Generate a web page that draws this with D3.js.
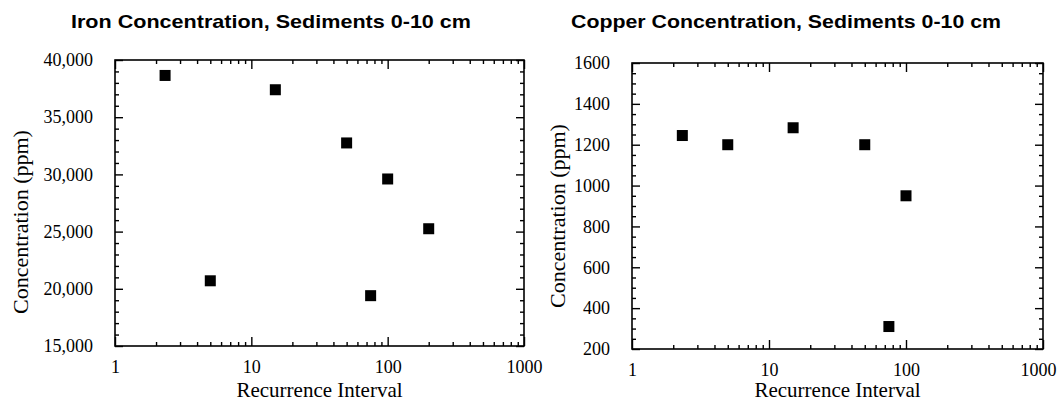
<!DOCTYPE html>
<html><head><meta charset="utf-8">
<script src="https://cdn.jsdelivr.net/npm/d3@7"></script>
<style>body{margin:0;background:#fff}svg{display:block}</style>
</head><body><svg id="c" width="1057" height="401"></svg>
<script>
// ---- data ----
const ironRecurrence = [2.33, 5, 15, 50, 75, 100, 200];
const ironPpm = [38650, 20700, 37400, 32750, 19400, 29600, 25250];
const copperRecurrence = [2.33, 5, 15, 50, 75, 100];
const copperPpm = [1245, 1200, 1283, 1200, 310, 950];
const xTickValues = [1, 10, 100, 1000];
const xTickLabels = ["1", "10", "100", "1000"];
const ironTickValues = [15000, 20000, 25000, 30000, 35000, 40000];
const ironTickLabels = ["15,000", "20,000", "25,000", "30,000", "35,000", "40,000"];
const copperTickValues = [200, 400, 600, 800, 1000, 1200, 1400, 1600];
const copperTickLabels = ["200", "400", "600", "800", "1000", "1200", "1400", "1600"];
const titles = ["Iron Concentration, Sediments 0-10 cm", "Copper Concentration, Sediments 0-10 cm"];
const xTitle = "Recurrence Interval";
const yTitle = "Concentration (ppm)";

const svg = d3.select("#c");
const serif = "'Liberation Serif','Times New Roman',serif";
const sans = "'Liberation Sans',Arial,sans-serif";

function panel(cfg) {
  const {x0, x1, y0, y1, xs, ys, yDomain, yTicks, yLabels, yMinorStep, titleX, titleW, yTitleX, yTitleY, title} = cfg;
  const x = d3.scaleLog().domain([1, 1000]).range([x0, x1]);
  const y = d3.scaleLinear().domain(yDomain).range([y1, y0]);
  const g = svg.append("g");

  const minorX = [];
  [1, 10, 100].forEach(d => { for (let k = 2; k <= 9; k++) minorX.push(k * d); });
  const minorY = d3.range(yDomain[0], yDomain[1] + 1e-9, yMinorStep).filter(v => !yTicks.includes(v));

  const fmtX = d => xTickLabels[xTickValues.indexOf(d)];
  const fmtY = d => yLabels[yTicks.indexOf(d)];

  function styleAxis(sel) {
    sel.select(".domain").remove();
    sel.selectAll("line").attr("stroke", "#000").attr("stroke-width", 1.4);
    sel.selectAll("text").attr("font-family", serif).attr("font-size", 18).attr("fill", "#000");
  }
  // bottom
  const bottom = g.append("g").attr("transform", `translate(0,${y1})`)
    .call(d3.axisBottom(x).tickValues(xTickValues).tickFormat(fmtX).tickSize(-9).tickPadding(14)).call(styleAxis);
  // keep the last label inside the page
  bottom.selectAll(".tick text").each(function(d) {
    const px = x(d);
    if (px + 18 > 1056) d3.select(this).attr("text-anchor", "end").attr("x", 1056 - px);
  });
  g.append("g").attr("transform", `translate(0,${y1})`)
    .call(d3.axisBottom(x).tickValues(minorX).tickFormat("").tickSize(-4)).call(styleAxis);
  // top
  g.append("g").attr("transform", `translate(0,${y0})`)
    .call(d3.axisTop(x).tickValues(xTickValues).tickFormat("").tickSize(-9)).call(styleAxis);
  g.append("g").attr("transform", `translate(0,${y0})`)
    .call(d3.axisTop(x).tickValues(minorX).tickFormat("").tickSize(-4)).call(styleAxis);
  // left
  g.append("g").attr("transform", `translate(${x0},0)`)
    .call(d3.axisLeft(y).tickValues(yTicks).tickFormat(fmtY).tickSize(-8).tickPadding(22)).call(styleAxis);
  g.append("g").attr("transform", `translate(${x0},0)`)
    .call(d3.axisLeft(y).tickValues(minorY).tickFormat("").tickSize(-4)).call(styleAxis);
  // right
  g.append("g").attr("transform", `translate(${x1},0)`)
    .call(d3.axisRight(y).tickValues(yTicks).tickFormat("").tickSize(-8)).call(styleAxis);
  g.append("g").attr("transform", `translate(${x1},0)`)
    .call(d3.axisRight(y).tickValues(minorY).tickFormat("").tickSize(-4)).call(styleAxis);

  // frame
  g.append("rect").attr("x", x0).attr("y", y0).attr("width", x1 - x0).attr("height", y1 - y0)
    .attr("fill", "none").attr("stroke", "#000").attr("stroke-width", 1.6);

  // markers
  const s = 11;
  g.selectAll("rect.pt").data(xs.map((v, i) => [v, ys[i]])).join("rect").attr("class", "pt")
    .attr("x", d => x(d[0]) - s / 2).attr("y", d => y(d[1]) - s / 2)
    .attr("width", s).attr("height", s).attr("fill", "#000");

  // titles
  g.append("text").attr("x", titleX).attr("y", 28).attr("text-anchor", "middle")
    .attr("font-family", sans).attr("font-weight", "bold").attr("font-size", 18.5)
    .attr("textLength", titleW).attr("lengthAdjust", "spacingAndGlyphs").text(title);
  g.append("text").attr("x", (x0 + x1) / 2).attr("y", 397).attr("text-anchor", "middle")
    .attr("font-family", serif).attr("font-size", 21).text(xTitle);
  g.append("text").attr("transform", `translate(${yTitleX},${yTitleY}) rotate(-90)`)
    .attr("text-anchor", "middle").attr("dy", "0.35em")
    .attr("font-family", serif).attr("font-size", 22).text(yTitle);
}

panel({x0: 115, x1: 524, y0: 60, y1: 346, xs: ironRecurrence, ys: ironPpm,
  yDomain: [15000, 40000], yTicks: ironTickValues, yLabels: ironTickLabels, yMinorStep: 1000,
  titleX: 271, titleW: 400, yTitleX: 20, yTitleY: 222, title: titles[0]});
panel({x0: 632, x1: 1043, y0: 63, y1: 349, xs: copperRecurrence, ys: copperPpm,
  yDomain: [200, 1600], yTicks: copperTickValues, yLabels: copperTickLabels, yMinorStep: 50,
  titleX: 786, titleW: 430, yTitleX: 557, yTitleY: 216, title: titles[1]});
</script>
</body></html>
